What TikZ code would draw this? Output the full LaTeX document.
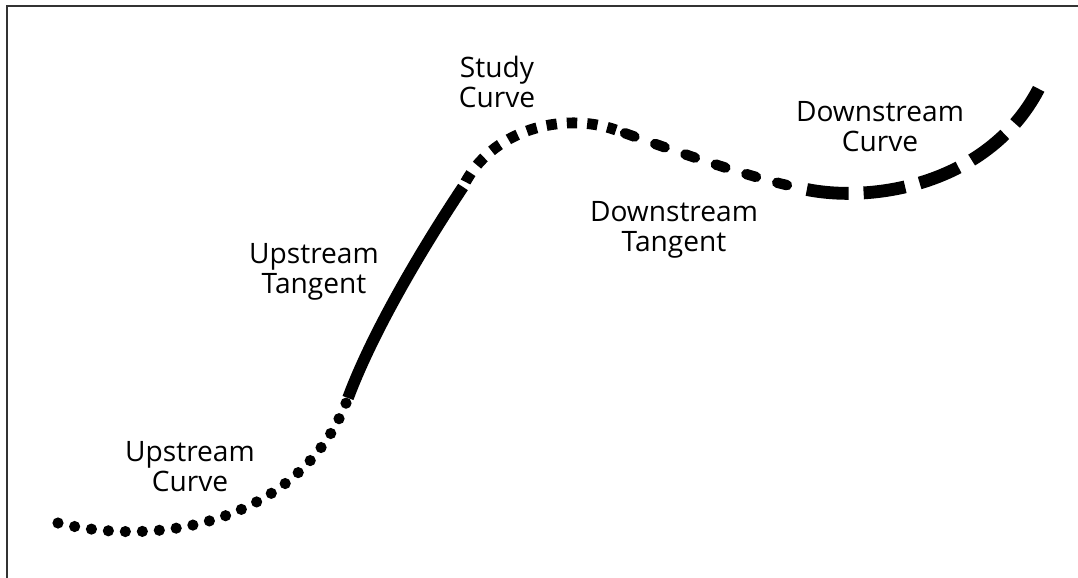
\documentclass[tikz,border=0pt]{standalone}
\usepackage{fontspec}
\setmainfont{Open Sans}
\usepackage{xcolor}
\definecolor{cInk}{HTML}{000000}
\definecolor{cFrame}{HTML}{333333}
\usepackage{tikz}
\tikzset{
  lbl/.style={align=center,inner sep=0pt,text=cInk,
    font=\fontsize{20}{21.3}\selectfont},
  seg-dots/.style={draw=cInk,line width=2.8mm,line cap=round,
    dash pattern=on 0pt off 4.25mm},
  seg-solid/.style={draw=cInk,line width=2.9mm},
  seg-square/.style={draw=cInk,line width=2.7mm,
    dash pattern=on 2.6mm off 2.5mm,dash phase=3.7mm},
  seg-round/.style={draw=cInk,line width=2.6mm,line cap=round,
    dash pattern=on 2.5mm off 5.5mm,dash phase=5.6mm},
  seg-long/.style={draw=cInk,line width=3.2mm,
    dash pattern=on 10.5mm off 3.75mm,dash phase=12.5mm},
  frame/.style={draw=cFrame,line width=0.5mm},
}

\begin{document}
\begin{tikzpicture}[x=0.025cm,y=-0.025cm]
  \useasboundingbox (0,0) rectangle (1078,578);
  \draw[frame] (1078,6) -- (7,6) -- (7,578);

  % joints along the road
  \coordinate (start) at (58,523);
  \coordinate (jA) at (348,398);
  \coordinate (jB) at (463,187);
  \coordinate (jC) at (616,130);
  \coordinate (jD) at (800,188);
  \coordinate (end) at (1043,80);

  \draw[seg-dots] (start) .. controls (170,550) and (305,515) .. (jA);
  \draw[seg-solid] (jA) .. controls (373,331) and (423,247) .. (jB);
  \draw[seg-square] (jB) .. controls (490,130) and (563,111) .. (jC);
  \draw[seg-round] (jC) .. controls (669,149) and (750,178) .. (jD);
  \draw[seg-long] (jD) .. controls (870,205) and (995,185) .. (end);

  \node[lbl] (upCurve) at (190,467) {Upstream\\Curve};
  \node[lbl] (upTangent) at (314,272) {Upstream\\Tangent};
  \node[lbl] (studyCurve) at (497,82) {Study\\Curve};
  \node[lbl] (dnTangent) at (674,230) {Downstream\\Tangent};
  \node[lbl] (dnCurve) at (880,127) {Downstream\\Curve};
\end{tikzpicture}
\end{document}
